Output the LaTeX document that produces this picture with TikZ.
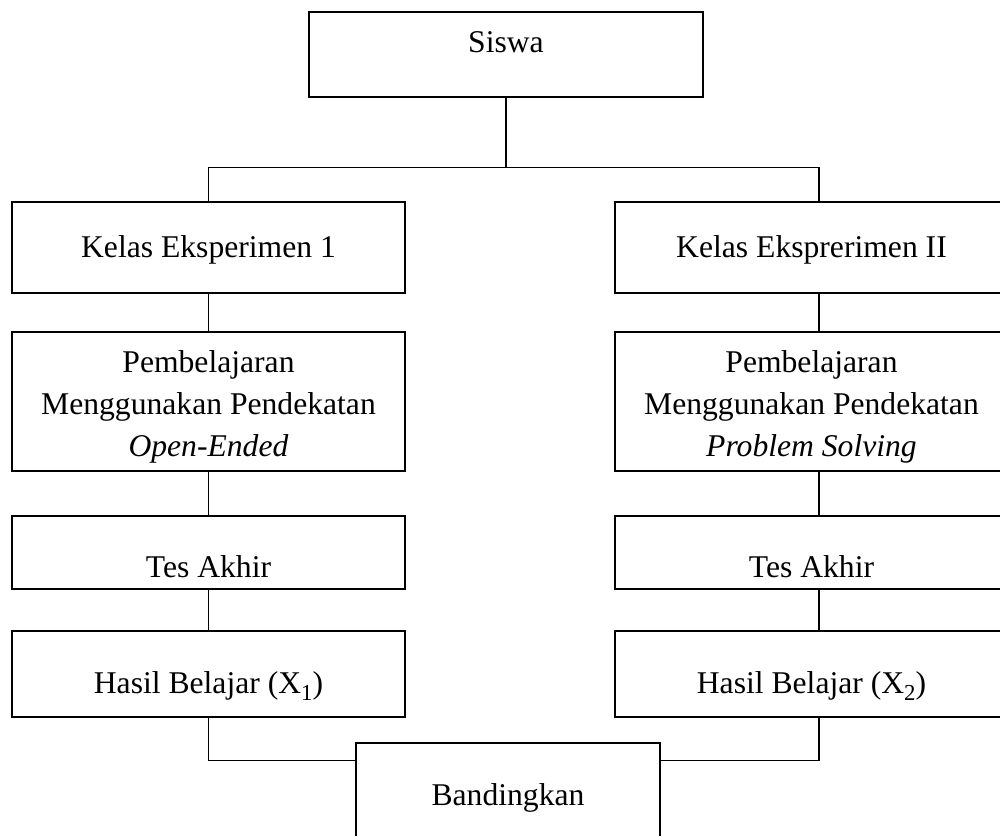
\documentclass[tikz,border=0pt]{standalone}
\usepackage{fontspec}
\setmainfont{Liberation Serif}
\usetikzlibrary{positioning, calc}

\newcommand{\subidx}[1]{\raisebox{-0.24em}{\fontsize{13}{13}\selectfont #1}}

\begin{document}
\begin{tikzpicture}[
    box/.style={rectangle, draw=black, line width=0.8pt, minimum width=7.86cm, inner xsep=2pt, inner ysep=0pt, align=center, font=\fontsize{18}{23.9}\selectfont},
    link/.style={draw=black, line width=0.6pt},
]

% Page frame
\clip (0,0) rectangle (20,-16.7);

% Top box
\node[box, minimum width=7.88cm, text height=0.8cm, text depth=0.9cm] (siswa) at (10.12,-1.09) {Siswa};

% Left column
\node[box, text height=1.1cm, text depth=0.72cm] (kelas1) at (4.17,-4.95) {Kelas Eksperimen 1};
\node[box, text height=2.48cm, text depth=0.3cm] (ajar1) at (4.17,-8.03) {Pembelajaran\\Menggunakan Pendekatan\\\textit{Open-Ended}};
\node[box, text height=1.22cm, text depth=0.24cm] (tes1) at (4.17,-11.05) {Tes Akhir};
\node[box, text height=1.24cm, text depth=0.48cm] (hasil1) at (4.17,-13.48) {Hasil Belajar (X\subidx{1})};

% Right column
\node[box, text height=1.1cm, text depth=0.72cm] (kelas2) at (16.23,-4.95) {Kelas Eksprerimen II};
\node[box, text height=2.48cm, text depth=0.3cm] (ajar2) at (16.23,-8.03) {Pembelajaran\\Menggunakan Pendekatan\\\textit{Problem Solving}};
\node[box, text height=1.22cm, text depth=0.24cm] (tes2) at (16.23,-11.05) {Tes Akhir};
\node[box, text height=1.24cm, text depth=0.48cm] (hasil2) at (16.23,-13.48) {Hasil Belajar (X\subidx{2})};

% Bottom box
\node[box, minimum width=6.08cm, text height=1.24cm, text depth=0.96cm] (banding) at (10.16,-15.96) {Bandingkan};

% Split from the top
\draw[link] (siswa.south) -- ++(0,-1.4) coordinate (cabang);
\draw[link] (kelas1.north) |- (cabang) -| ([xshift=0.15cm]kelas2.north);

% Left chain
\draw[link] (kelas1.south) -- (ajar1.north);
\draw[link] (ajar1.south) -- (tes1.north);
\draw[link] (tes1.south) -- (hasil1.north);

% Right chain
\draw[link] ([xshift=0.15cm]kelas2.south) -- ([xshift=0.15cm]ajar2.north);
\draw[link] ([xshift=0.15cm]ajar2.south) -- ([xshift=0.15cm]tes2.north);
\draw[link] ([xshift=0.15cm]tes2.south) -- ([xshift=0.15cm]hasil2.north);

% Join at the bottom
\draw[link] (hasil1.south) |- ([yshift=-0.36cm]banding.north west);
\draw[link] ([xshift=0.15cm]hasil2.south) |- ([yshift=-0.36cm]banding.north east);

\end{tikzpicture}
\end{document}
